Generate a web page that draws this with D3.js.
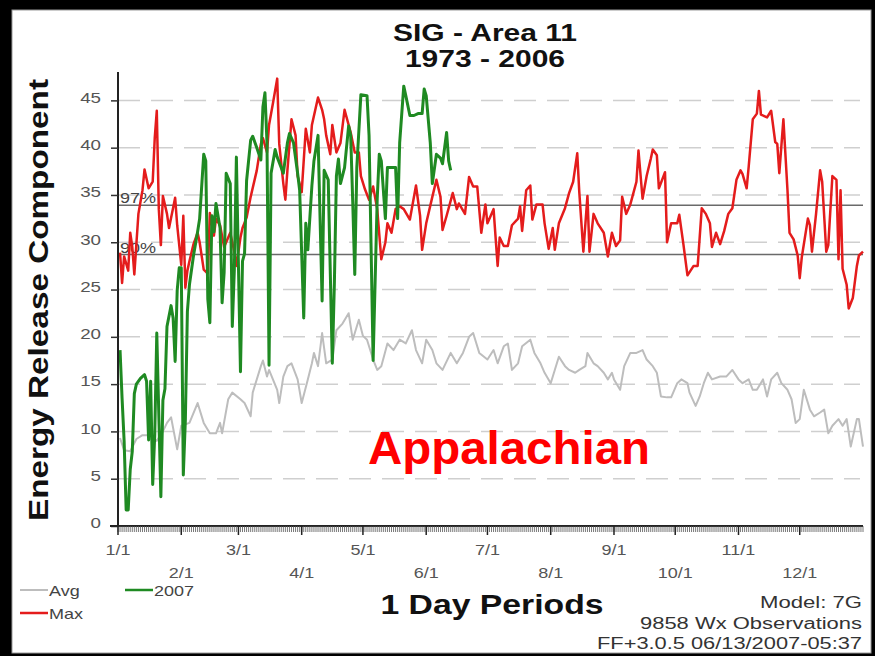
<!DOCTYPE html>
<html>
<head>
<meta charset="utf-8">
<script src="https://cdn.jsdelivr.net/npm/d3@7"></script>
<style>
  body { margin: 0; background: #000; }
  svg { display: block; }
  text { font-family: "Liberation Sans", Arial, sans-serif; }
</style>
</head>
<body>
<svg id="chart" width="875" height="656"></svg>
<script>
// ---- data -------------------------------------------------------------
const titleLines = ["SIG - Area 11", "1973 - 2006"];
const yAxisTitle = "Energy Release Component";
const xAxisTitle = "1 Day Periods";
const regionLabel = "Appalachian";
const footerLines = ["Model: 7G", "9858 Wx Observations", "FF+3.0.5 06/13/2007-05:37"];

const monthLabels = ["1/1","2/1","3/1","4/1","5/1","6/1","7/1","8/1","9/1","10/1","11/1","12/1"];
const monthStartDays = [0,31,59,90,120,151,181,212,243,273,304,334];
const yTicks = [0,5,10,15,20,25,30,35,40,45];

const percentileNames = ["97%", "90%"];
const percentileValues = [33.9, 28.7];

const legendNames = ["Avg", "Max", "2007"];

// [day of year, ERC]
const avgSeries = [[1,9.3],[3,8],[6,7.9],[9,9.2],[12,9.6],[16,9.6],[19,9],[22,10],[24,10.9],[26,11.5],[29,8.1],[31,10.6],[35,10.9],[39,13],[42,10.9],[45,9.8],[48,9.8],[50,10.9],[51,9.8],[54,13.4],[56,14.1],[60,13.4],[62,13],[65,11.6],[66,14.1],[70,16.9],[71,17.5],[73,15.8],[74,16.5],[78,14.4],[79,13],[81,15.8],[83,16.9],[85,17.2],[88,15.5],[90,13],[93,15.5],[95,17.2],[96,18.3],[98,16.9],[100,20.4],[102,17.2],[105,17.6],[107,20.7],[110,21.4],[113,22.5],[115,19.7],[118,21.8],[120,20.1],[122,19.7],[125,17.6],[127,16.5],[129,16.9],[132,19.3],[135,18.6],[138,19.7],[141,19.3],[144,20.7],[146,18.6],[149,17.2],[151,19.7],[154,18.6],[156,17.2],[159,16.5],[163,18.3],[166,17.2],[169,18.3],[172,20],[174,20.4],[177,18.3],[181,17.6],[184,18.6],[186,17.2],[189,19],[191,19.3],[193,16.5],[196,17.2],[198,19],[202,19.7],[204,18.3],[207,17.2],[209,16.2],[212,15.1],[214,16.5],[216,17.9],[219,16.9],[221,16.5],[224,16.2],[226,16.5],[229,16.9],[230,18.3],[233,17.2],[235,16.9],[238,16.2],[240,15.5],[242,16.2],[243,15.5],[246,14.4],[248,16.9],[251,18.3],[254,18.3],[257,18.6],[259,17.6],[262,16.9],[264,16.2],[266,13.7],[269,13.6],[271,13.6],[274,15.1],[276,15.5],[279,15.1],[280,14.1],[283,12.7],[285,13.7],[287,15.1],[289,16.2],[291,15.5],[295,15.8],[298,15.8],[301,16.5],[304,15.5],[306,15.1],[309,15.5],[311,14.4],[313,14.4],[316,15.5],[318,13.7],[320,15.5],[323,16.2],[325,15.1],[328,14.4],[330,13.4],[332,10.9],[334,11.3],[336,14.4],[339,12.3],[341,11.6],[344,12],[346,12.3],[348,9.8],[350,10.6],[353,11.3],[355,10.6],[357,11.3],[359,8.4],[362,11.3],[363,11.3],[365,8.4]];

const maxSeries = [[1,28.9],[2,25.7],[3,28.5],[5,27],[6,31],[7,29.5],[8,26.6],[10,33],[12,35.5],[13,37.7],[15,35.7],[17,36.4],[18,41],[19,43.9],[20,33.5],[21,29.7],[22,34.9],[24,33],[25,31.5],[28,34.7],[29,31.8],[31,27.6],[32,32.8],[33,25.2],[34,27],[35,28],[37,29.8],[39,31],[40,30],[42,27.1],[44,26.7],[45,33.1],[47,30.7],[48,32.5],[50,31.8],[52,29.5],[55,31],[57,29],[58,27.5],[60,30.5],[61,31.5],[63,32.6],[65,34.8],[68,37.6],[70,40.4],[71,41],[73,39.5],[74,42.4],[76,44.8],[78,47.3],[79,40.4],[81,36.2],[82,34.5],[83,37.6],[85,43],[87,41.3],[88,37],[90,35.3],[92,42],[94,39.5],[95,42.4],[98,45.3],[100,44],[101,43],[102,41.3],[104,39.3],[105,42.4],[107,39.5],[109,40.5],[111,44],[114,41.6],[116,39.5],[118,39.5],[119,37],[121,35.6],[123,34.5],[125,35.9],[127,33.5],[129,28.2],[131,30],[132,32],[134,31],[136,33.5],[138,33.8],[140,33.5],[143,32.4],[146,36],[148,32.8],[149,29.2],[151,32],[154,34.8],[156,36.6],[158,34.8],[159,31.3],[161,32.8],[164,35.2],[166,33.5],[167,34.1],[170,33],[172,36.9],[174,35.9],[176,35.9],[178,31],[180,34],[181,32],[184,33.5],[186,27.5],[187,30.5],[189,29.6],[191,29.6],[193,31.8],[196,32.5],[197,33.8],[198,31.2],[200,35.5],[202,36],[203,32.4],[205,34],[208,34],[209,32],[211,29.3],[213,31.5],[214,29.2],[216,32],[219,33.6],[221,35.2],[223,36.4],[225,39.4],[226,35.3],[228,29],[230,34.9],[231,29],[233,33],[235,32],[238,31],[240,28.5],[242,31],[244,29.6],[246,30.2],[247,34.8],[249,33],[251,34],[252,34.8],[254,36.4],[255,39.7],[257,34.6],[259,37],[261,38.8],[262,39.8],[264,39.2],[265,35.7],[268,37.4],[269,30],[271,32],[274,32],[275,32.9],[277,29.8],[279,26.5],[282,27.5],[284,27.5],[286,33.6],[288,33],[290,32],[291,29.5],[293,31],[295,29.8],[297,31.2],[299,33],[301,33.6],[303,36.6],[305,37.6],[306,37.2],[308,35.7],[309,38],[311,43],[313,43.6],[314,46],[315,43.5],[318,43.2],[320,43.9],[322,40.6],[323,40.4],[324,37.3],[326,43],[328,35.5],[329,31],[331,30.3],[333,28.6],[334,26.2],[335,28.4],[338,32.5],[339,31.8],[340,29],[342,33],[344,37.6],[345,36.4],[347,29],[348,29.7],[350,37],[352,36.6],[353,28.2],[354,35.5],[355,27.2],[357,25.5],[358,23],[360,24.1],[362,27.5],[363,28.6],[365,29]];

const series2007 = [[1,18.6],[2,13.5],[3,9],[4,1.7],[5,1.7],[6,6],[7,7.9],[8,14],[9,15],[11,15.6],[13,16],[14,15.3],[15,9.1],[16,15.3],[17,4.4],[18,9.6],[19,20.4],[21,3.1],[22,13.3],[23,14.5],[24,21.1],[26,23.3],[27,22],[28,17.4],[29,24.9],[30,27.3],[31,27.3],[32,5.4],[33,11.2],[34,22.7],[35,25.5],[37,28.6],[39,31.1],[40,32.5],[42,39.3],[43,38.6],[44,24],[45,21.5],[46,32.8],[47,31.1],[48,34.1],[50,31.5],[51,23.6],[52,26.8],[53,37.3],[55,36.2],[56,21.1],[57,27.1],[58,39],[60,16.3],[61,28],[62,28.8],[63,36.5],[65,40.8],[66,41.2],[68,40],[70,38.7],[71,44.3],[72,45.8],[73,40.5],[74,17],[75,37.3],[77,39.8],[78,39],[81,37.3],[83,40.5],[84,41.5],[86,40.5],[88,37.3],[89,35.5],[91,22],[92,32],[93,29.2],[95,36],[96,38.6],[98,41.3],[100,23.8],[101,37.6],[103,36.6],[105,17.2],[106,25.6],[107,37],[108,38.8],[109,36.2],[111,37.9],[113,42.3],[114,41.3],[115,34.3],[116,26.6],[117,37.9],[119,45.6],[122,45.5],[123,41.3],[125,17.5],[127,34.6],[128,39.3],[129,38.6],[131,32.5],[132,37.9],[136,37.9],[137,32.5],[138,40.5],[140,46.5],[141,45.5],[143,43.4],[145,43.4],[147,43.6],[149,43.6],[150,46.2],[151,45.5],[153,40.5],[154,36.2],[156,39.3],[158,38.9],[159,38.3],[161,41.6],[162,38.6],[163,37.6]];

// ---- layout & styles --------------------------------------------------
const W = 875, H = 656;
const colors = { avg: "#bdbdbd", max: "#e41c1c", y2007: "#1f8a22", axis: "#222", label: "#555", grid: "#cfcfcf", pct: "#6a6a6a" };

const svg = d3.select("#chart");
svg.append("rect").attr("width", W).attr("height", H).attr("fill", "#000");
svg.append("rect").attr("x", 12).attr("y", 10).attr("width", 859).attr("height", 643)
   .attr("fill", "#fff").attr("stroke", "#9a9a9a").attr("stroke-width", 1);

const x = d3.scaleLinear().domain([0, 365]).range([118, 863]);
const y = d3.scaleLinear().domain([0, 48]).range([526, 72]);

// stretch text horizontally by factor k (or to a fixed width)
function widen(sel, k) {
  sel.each(function () {
    const w = this.getComputedTextLength();
    d3.select(this).attr("textLength", w * k).attr("lengthAdjust", "spacingAndGlyphs");
  });
}
function fitWidth(sel, w) {
  sel.attr("textLength", w).attr("lengthAdjust", "spacingAndGlyphs");
}

// horizontal dashed grid
svg.append("g").selectAll("line").data(yTicks.filter(v => v > 0)).join("line")
  .attr("x1", x(0)).attr("x2", 860)
  .attr("y1", d => y(d)).attr("y2", d => y(d))
  .attr("stroke", colors.grid).attr("stroke-width", 1.5).attr("stroke-dasharray", "22,11");

// percentile reference lines
const pct = svg.append("g");
pct.selectAll("line").data(percentileValues).join("line")
  .attr("x1", x(0)).attr("x2", x(365))
  .attr("y1", d => y(d)).attr("y2", d => y(d))
  .attr("stroke", colors.pct).attr("stroke-width", 1.5);
pct.selectAll("text").data(percentileValues).join("text")
  .attr("x", x(0) + 2).attr("y", d => y(d) - 2)
  .attr("font-size", 15).attr("fill", "#444")
  .text((d, i) => percentileNames[i])
  .call(widen, 1.2);

// series
const line = d3.line().x(d => x(d[0])).y(d => y(d[1]));
svg.append("path").datum(avgSeries).attr("d", line)
  .attr("fill", "none").attr("stroke", colors.avg).attr("stroke-width", 2).attr("stroke-linejoin", "round");
svg.append("path").datum(maxSeries).attr("d", line)
  .attr("fill", "none").attr("stroke", colors.max).attr("stroke-width", 2.5).attr("stroke-linejoin", "round");
svg.append("path").datum(series2007).attr("d", line)
  .attr("fill", "none").attr("stroke", colors.y2007).attr("stroke-width", 3).attr("stroke-linejoin", "round");

// y axis
const gy = svg.append("g").attr("transform", `translate(${x(0)},0)`)
  .call(d3.axisLeft(y).tickValues(yTicks).tickSize(7).tickSizeOuter(0).tickPadding(10));
gy.select(".domain").attr("stroke", colors.axis).attr("stroke-width", 2);
gy.selectAll(".tick line").attr("stroke", "#333").attr("stroke-width", 1.5);
gy.selectAll(".tick text").attr("font-size", 15).attr("fill", colors.label)
  .attr("font-family", "Liberation Sans, Arial, sans-serif")
  .attr("transform", "translate(0,-3)").call(widen, 1.25);

// extend the axis line a bit to the top
gy.select(".domain").attr("d", `M0,${y(48)}V${y(0)}`);

// x axis: daily ticks, longer month ticks
const gx = svg.append("g").attr("transform", `translate(0,${y(0)})`);
gx.append("line").attr("x1", x(0) - 8).attr("x2", x(365)).attr("y1", 0).attr("y2", 0)
  .attr("stroke", colors.axis).attr("stroke-width", 2);
gx.selectAll("line.day").data(d3.range(0, 366)).join("line").attr("class", "day")
  .attr("x1", d => x(d)).attr("x2", d => x(d)).attr("y1", 0).attr("y2", 6)
  .attr("stroke", "#555").attr("stroke-width", 0.8);
gx.selectAll("line.month").data(monthStartDays).join("line").attr("class", "month")
  .attr("x1", d => x(d)).attr("x2", d => x(d)).attr("y1", 0).attr("y2", 9)
  .attr("stroke", "#222").attr("stroke-width", 1.5);
gx.selectAll("text").data(monthStartDays).join("text")
  .attr("x", d => x(d)).attr("y", (d, i) => i % 2 === 0 ? 29 : 52)
  .attr("text-anchor", "middle").attr("font-size", 15).attr("fill", colors.label)
  .text((d, i) => monthLabels[i]).call(widen, 1.2);

// titles
svg.append("g").selectAll("text").data(titleLines).join("text")
  .attr("x", 485).attr("y", (d, i) => 41 + i * 26)
  .attr("text-anchor", "middle").attr("font-size", 24).attr("font-weight", "bold").attr("fill", "#111")
  .text(d => d).call(widen, 1.25);

svg.append("text").attr("transform", "translate(48,300) rotate(-90)")
  .attr("text-anchor", "middle").attr("font-size", 27).attr("font-weight", "bold").attr("fill", "#111")
  .text(yAxisTitle).call(fitWidth, 442);

svg.append("text").attr("x", 492).attr("y", 614)
  .attr("text-anchor", "middle").attr("font-size", 28).attr("font-weight", "bold").attr("fill", "#111")
  .text(xAxisTitle).call(fitWidth, 223);

svg.append("text").attr("x", 368).attr("y", 464)
  .attr("font-size", 46).attr("font-weight", "bold").attr("fill", "#ff0000")
  .text(regionLabel).call(fitWidth, 282);

// footer notes, right aligned
const footerWidths = [102, 222, 265];
svg.append("g").selectAll("text").data(footerLines).join("text")
  .attr("x", 862).attr("y", (d, i) => 608 + i * 20.5)
  .attr("text-anchor", "end").attr("font-size", 16).attr("fill", "#333")
  .text(d => d).each(function (d, i) { fitWidth(d3.select(this), footerWidths[i]); });

// legend
const legendPos = [[20, 590], [20, 613], [125, 590]];
const legendColors = [colors.avg, colors.max, colors.y2007];
const lg = svg.append("g");
legendNames.forEach((name, i) => {
  const [lx, ly] = legendPos[i];
  lg.append("line").attr("x1", lx).attr("x2", lx + 28).attr("y1", ly).attr("y2", ly)
    .attr("stroke", legendColors[i]).attr("stroke-width", i === 0 ? 2 : 2.5);
  lg.append("text").attr("x", lx + 29).attr("y", ly + 6).attr("font-size", 15).attr("fill", "#444")
    .text(name).call(widen, 1.2);
});
</script>
</body>
</html>
